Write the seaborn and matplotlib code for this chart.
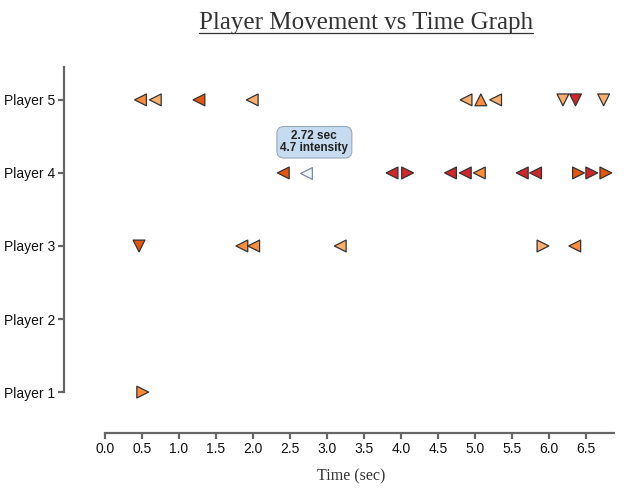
import matplotlib
matplotlib.use("Agg")
import matplotlib.pyplot as plt
from matplotlib.lines import Line2D
import pandas as pd
import seaborn as sns

# ---------------- data ----------------
times = [0.48, 0.68, 1.27, 1.99, 4.88, 5.08, 5.28, 6.19, 6.36, 6.74,
         2.41, 3.88, 4.09, 4.67, 4.87, 5.06, 5.64, 5.82, 6.40, 6.58, 6.77,
         0.46, 1.85, 2.01, 3.18, 5.92, 6.35,
         0.51]
players = [5] * 10 + [4] * 11 + [3] * 6 + [1]
directions = ["<", "<", "<", "<", "<", "^", "<", "v", "v", "v",
              "<", "<", ">", "<", "<", "<", "<", "<", ">", ">", ">",
              "v", "<", "<", "<", ">", "<",
              ">"]
intensity = [5, 3, 6, 3, 3, 5, 3, 3, 8, 3,
             6, 8, 8, 8, 8, 5, 8, 8, 6, 8, 6,
             6, 5, 5, 3, 3, 5,
             5]

# hovered point (tooltip)
hover_time = 2.72
hover_player = 4
hover_intensity = 4.7

player_labels = ["Player 1", "Player 2", "Player 3", "Player 4", "Player 5"]
x_ticks = [0.0, 0.5, 1.0, 1.5, 2.0, 2.5, 3.0, 3.5, 4.0, 4.5, 5.0, 5.5, 6.0, 6.5]

df = pd.DataFrame({"time": times, "player": players,
                   "direction": directions, "intensity": intensity})

palette = {3: "#fdae6b", 5: "#fd8d3c", 6: "#e6550d", 8: "#d3262a"}
marker_map = {"<": "<", ">": ">", "^": "^", "v": "v"}

sns.set_theme(style="white")
plt.rcParams["font.family"] = ["Liberation Sans", "DejaVu Sans"]

fig = plt.figure(figsize=(6.29, 4.9), dpi=100)
ax = fig.add_axes([64 / 629, 57 / 490, 550 / 629, 366 / 490])

sns.scatterplot(data=df, x="time", y="player", hue="intensity", style="direction",
                palette=palette, markers=marker_map, s=72, edgecolor="#333333",
                linewidth=0.9, legend=False, ax=ax, zorder=3)

# highlighted (hovered) marker
ax.scatter([hover_time], [hover_player], marker="<", s=72, facecolor="#f2f6fb",
           edgecolor="#7d8aa3", linewidth=0.9, zorder=3)
ax.text(2.83, 4.42, "%.2f sec\n%.1f intensity" % (hover_time, hover_intensity),
        ha="center", va="center", fontsize=8.5, fontweight="bold", color="#222222",
        linespacing=1.05,
        bbox=dict(boxstyle="round,pad=0.3,rounding_size=0.6", fc="#c6dbef",
                  ec="#9aa9b8", lw=0.8))

ax.set_xlim(-0.554, 6.88)
ax.set_ylim(0.44, 5.45)
ax.set_xticks(x_ticks)
ax.set_xticklabels(["%.1f" % v for v in x_ticks])
ax.set_yticks([1, 2, 3, 4, 5])
ax.set_yticklabels(player_labels)

for side in ["top", "right"]:
    ax.spines[side].set_visible(False)
ax.spines["left"].set_bounds(1, 5.45)
ax.spines["bottom"].set_bounds(0, 6.88)
for side in ["left", "bottom"]:
    ax.spines[side].set_color("#666666")
    ax.spines[side].set_linewidth(1.6)

ax.tick_params(axis="both", which="both", direction="out", length=4.5, width=1.6,
               color="#666666", labelsize=10, labelcolor="#111111", pad=2,
               left=True, bottom=True)
ax.set_xlabel("Time (sec)", family="Liberation Serif", fontsize=11.5,
              color="#333333")
ax.xaxis.set_label_coords(0.522, -0.098)
ax.set_ylabel("")

title = fig.text(0.582, 0.94, "Player Movement vs Time Graph", ha="center",
                 va="baseline", family="Liberation Serif", fontsize=18,
                 color="#333333")
fig.canvas.draw()
bb = title.get_window_extent().transformed(fig.transFigure.inverted())
uy = 0.94 - 3.5 / 490
fig.add_artist(Line2D([bb.x0, bb.x1], [uy, uy], transform=fig.transFigure,
                      color="#333333", linewidth=0.9))

plt.savefig("out.png", dpi=100)
